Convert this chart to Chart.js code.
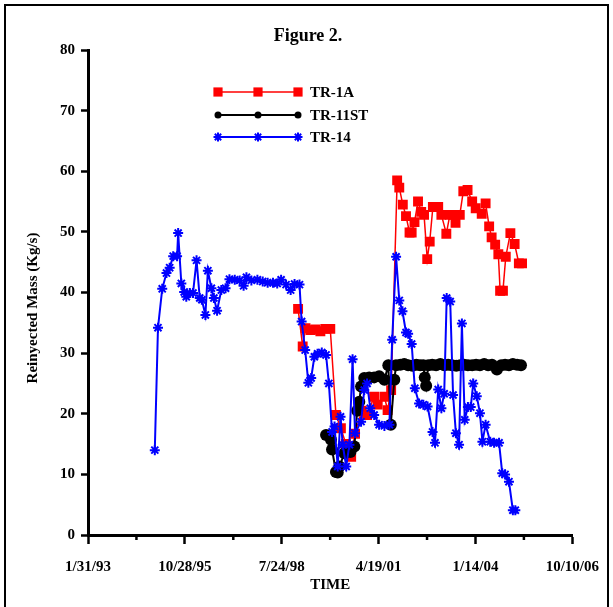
<!DOCTYPE html>
<html>
<head>
<meta charset="utf-8">
<script src="https://cdn.jsdelivr.net/npm/chart.js@4.4.1/dist/chart.umd.min.js"></script>
<style>html,body{margin:0;padding:0;background:#fff}</style>
</head>
<body>
<canvas id="chart" width="613" height="607"></canvas>
<script>
const SERIF = "'Liberation Serif', 'Times New Roman', serif";

// Time in decimal years, mass in kg/s
const TR1A_T = [1999.02,1999.15,1999.23,1999.37,1999.51,1999.65,1999.79,1999.93,2000.09,2000.23,2000.37,2000.52,2000.63,2000.82,2000.97,2001.17,2001.27,2001.46,2001.55,2001.65,2001.82,2001.88,2001.98,2002.07,2002.17,2002.23,2002.31,2002.41,2002.50,2002.58,2002.67,2002.74,2002.83,2002.98,2003.07,2003.21,2003.31,2003.40,2003.47,2003.59,2003.69,2003.81,2003.94,2004.04,2004.21,2004.32,2004.42,2004.49,2004.59,2004.68,2004.73,2004.81,2004.89,2005.02,2005.14,2005.26,2005.35];
const TR1A_Y = [37.3,31.1,34.1,33.8,33.9,33.6,34.0,34.0,19.8,17.6,15.0,12.9,16.7,20.5,19.8,22.8,21.5,22.8,20.6,23.9,58.5,57.3,54.5,52.6,49.9,49.9,51.6,55.0,53.3,52.8,45.5,48.4,54.1,54.1,52.8,49.7,52.8,52.8,51.5,52.8,56.7,56.9,55.0,53.9,53.0,54.7,50.9,49.1,47.9,46.3,40.3,40.3,45.9,49.8,48.0,44.8,44.8];

const TR11ST_T = [1999.81,1999.95,1999.98,2000.09,2000.14,2000.19,2000.33,2000.50,2000.61,2000.69,2000.75,2000.80,2000.89,2001.03,2001.17,2001.31,2001.46,2001.57,2001.64,2001.74,
  2001.79,2001.91,2002.02,2002.13,2002.25,2002.36,2002.47,2002.56,2002.60,2002.64,2002.70,2002.81,2002.92,2003.04,2003.15,2003.26,2003.37,2003.49,2003.60,2003.71,2003.82,2003.94,2004.05,2004.16,2004.28,2004.39,2004.50,2004.64,2004.76,2004.87,2004.98,2005.09,2005.21,2005.32];
const TR11ST_Y = [16.5,15.7,14.1,10.4,10.3,11.3,13.5,13.7,14.6,20.5,22.0,24.5,25.9,26.0,26.0,26.2,25.6,28.0,18.2,25.6,
  28.0,28.1,28.2,28.0,27.9,28.1,28.0,28.0,26.0,24.6,28.0,28.1,28.0,28.2,28.0,28.1,28.0,27.9,28.0,28.1,28.0,28.0,28.1,28.0,28.2,28.0,28.1,27.3,28.0,28.1,28.0,28.2,28.1,28.0];

const TR14_T = [1994.97,1995.06,1995.18,1995.30,1995.39,1995.49,1995.60,1995.63,1995.72,1995.80,1995.86,1995.96,1996.05,1996.15,1996.24,1996.30,1996.40,1996.47,1996.57,1996.64,1996.73,1996.85,1996.97,1997.08,1997.23,1997.37,1997.48,1997.56,1997.70,1997.87,1998.02,1998.16,1998.31,1998.43,1998.54,1998.68,1998.81,1998.92,1999.06,1999.12,1999.22,1999.31,1999.39,1999.48,1999.57,1999.69,1999.81,1999.89,1999.98,2000.05,2000.14,2000.22,2000.28,2000.38,2000.47,2000.56,2000.63,2000.80,2000.89,2000.97,2001.06,2001.17,2001.31,2001.46,2001.60,2001.68,2001.79,2001.88,2001.97,2002.07,2002.13,2002.23,2002.32,2002.44,2002.56,2002.68,2002.82,2002.89,2002.98,2003.07,2003.15,2003.22,2003.32,2003.40,2003.48,2003.57,2003.65,2003.73,2003.82,2003.90,2003.97,2004.07,2004.16,2004.23,2004.32,2004.45,2004.56,2004.70,2004.79,2004.87,2004.98,2005.09,2005.16];
const TR14_Y = [14.0,34.2,40.6,43.2,44.1,46.0,46.0,49.8,41.5,40.1,39.3,39.9,39.9,45.3,39.1,38.8,36.3,43.6,40.7,39.1,37.0,40.4,40.7,42.2,42.1,42.0,41.1,42.5,42.0,42.1,41.8,41.6,41.6,41.5,42.1,41.3,40.4,41.4,41.3,35.2,30.5,25.1,25.9,29.4,29.9,30.1,29.7,25.0,17.0,17.9,11.3,19.5,14.9,11.3,14.9,29.0,16.8,18.7,23.9,25.0,20.9,19.8,18.2,18.0,18.2,32.2,45.9,38.7,36.9,33.4,33.2,31.5,24.2,21.7,21.5,21.2,17.0,15.2,24.0,20.9,23.3,39.1,38.5,23.1,16.8,14.9,34.9,19.0,21.1,21.1,25.0,22.9,20.1,15.4,18.2,15.4,15.2,15.2,10.2,10.0,8.8,4.1,4.1];

// x axis runs on spreadsheet serial days
const X_TICKS = [34000, 35000, 36000, 37000, 38000, 39000];
const X_TICK_LABELS = ['1/31/93', '10/28/95', '7/24/98', '4/19/01', '1/14/04', '10/10/06'];
const X_MINOR = [34500, 35500, 36500, 37500, 38500];

// decimal year -> serial day (34000 = 1/31/93)
const toSerial = (yr) => 34000 + (yr - 1993.082) * 365.25;
const pts = (ts, ys) => ts.map((t, i) => ({ x: toSerial(t), y: ys[i] }));

const SERIES = [
  { label: 'TR-1A', data: pts(TR1A_T, TR1A_Y), borderColor: '#ff0000', backgroundColor: '#ff0000',
    borderWidth: 1.5, pointStyle: 'rect', pointRadius: 7, pointBorderWidth: 0, order: 3,
    legendStyle: 'rect', legendRadius: 6.5 },
  { label: 'TR-11ST', data: pts(TR11ST_T, TR11ST_Y), borderColor: '#000000', backgroundColor: '#000000',
    borderWidth: 2, pointStyle: 'circle', pointRadius: 6, pointBorderWidth: 0, order: 2,
    legendStyle: 'circle', legendRadius: 3.5 },
  { label: 'TR-14', data: pts(TR14_T, TR14_Y), borderColor: '#0000ff', backgroundColor: '#0000ff',
    borderWidth: 2, pointStyle: 'star', pointRadius: 5, pointBorderWidth: 2, order: 1,
    legendStyle: 'star', legendRadius: 4.5 },
];

const LEGEND_Y = [92, 115, 137];

const decor = {
  id: 'decor',
  afterDraw(chart) {
    const ctx = chart.ctx;
    const xs = chart.scales.x;
    ctx.save();
    // outer frame
    ctx.strokeStyle = '#000';
    ctx.lineWidth = 2;
    ctx.beginPath();
    ctx.moveTo(5, 607); ctx.lineTo(5, 5); ctx.lineTo(608, 5); ctx.lineTo(608, 607);
    ctx.stroke();
    // minor x ticks
    ctx.lineWidth = 2.5;
    X_MINOR.forEach(v => {
      const px = xs.getPixelForValue(v);
      ctx.beginPath(); ctx.moveTo(px, xs.top); ctx.lineTo(px, xs.top + 5); ctx.stroke();
    });
    // title
    ctx.fillStyle = '#000';
    ctx.textAlign = 'center';
    ctx.textBaseline = 'middle';
    ctx.font = 'bold 18px ' + SERIF;
    ctx.fillText('Figure 2.', 308, 36);
    // legend
    SERIES.forEach((s, i) => {
      const y = LEGEND_Y[i];
      ctx.strokeStyle = s.borderColor;
      ctx.fillStyle = s.backgroundColor;
      ctx.lineWidth = s.borderWidth;
      ctx.beginPath(); ctx.moveTo(218, y); ctx.lineTo(298, y); ctx.stroke();
      [218, 258, 298].forEach(px => {
        Chart.helpers.drawPoint(ctx, { pointStyle: s.legendStyle, radius: s.legendRadius, rotation: 0,
          borderWidth: s.pointBorderWidth }, px, y);
      });
      ctx.fillStyle = '#000';
      ctx.textAlign = 'left';
      ctx.font = 'bold 15px ' + SERIF;
      ctx.fillText(s.label, 310, y + 1);
    });
    // y axis title
    ctx.textAlign = 'center';
    ctx.font = 'bold 15px ' + SERIF;
    ctx.translate(33, 308);
    ctx.rotate(-Math.PI / 2);
    ctx.fillText('Reinyected Mass (Kg/s)', 0, 0);
    ctx.restore();
  }
};

new Chart(document.getElementById('chart'), {
  type: 'line',
  data: { datasets: SERIES },
  options: {
    responsive: false,
    animation: false,
    devicePixelRatio: 1,
    layout: { padding: { top: 50, right: 39.5, left: 0, bottom: 0 } },
    plugins: { legend: { display: false }, tooltip: { enabled: false } },
    scales: {
      x: {
        type: 'linear',
        min: 34000,
        max: 39000,
        afterBuildTicks: (s) => { s.ticks = X_TICKS.map(v => ({ value: v })); },
        afterFit: (s) => { s.height = 72; },
        ticks: {
          color: '#000',
          font: { family: SERIF, size: 15, weight: 'bold' },
          padding: 14,
          maxRotation: 0,
          autoSkip: false,
          callback: (v, i) => X_TICK_LABELS[i],
        },
        grid: { drawOnChartArea: false, drawTicks: true, tickLength: 9, tickWidth: 2.5, tickColor: '#000' },
        border: { display: true, color: '#000', width: 3 },
        title: {
          display: true, text: 'TIME', color: '#000',
          font: { family: SERIF, size: 15, weight: 'bold' },
          padding: { top: 0, bottom: 13 },
        },
      },
      y: {
        min: 0,
        max: 80,
        afterFit: (s) => { s.width = 88; },
        ticks: {
          stepSize: 10,
          color: '#000',
          font: { family: SERIF, size: 15, weight: 'bold' },
          padding: 6,
        },
        grid: { drawOnChartArea: false, drawTicks: true, tickLength: 7, tickWidth: 2.5, tickColor: '#000' },
        border: { display: true, color: '#000', width: 3 },
      },
    },
  },
  plugins: [decor],
});
</script>
</body>
</html>
